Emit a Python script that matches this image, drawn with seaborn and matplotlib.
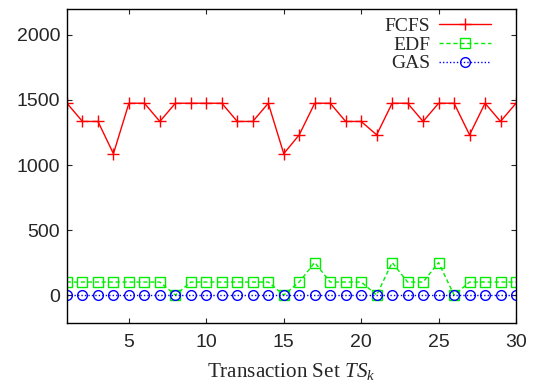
import matplotlib
matplotlib.use("Agg")
import matplotlib.pyplot as plt
import seaborn as sns
import pandas as pd

# Response time of each scheduling policy per transaction set
transaction_sets = list(range(1, 31))
fcfs = [1475, 1335, 1335, 1087, 1475, 1475, 1335, 1475, 1475, 1475,
        1475, 1335, 1335, 1475, 1087, 1232, 1475, 1475, 1335, 1335,
        1232, 1475, 1475, 1335, 1475, 1475, 1232, 1475, 1335, 1475]
edf = [100, 100, 100, 100, 100, 100, 100, 0, 100, 100,
       100, 100, 100, 100, 0, 100, 250, 100, 100, 100,
       0, 250, 100, 100, 250, 0, 100, 100, 100, 100]
gas = [0] * 30
x_ticks = [5, 10, 15, 20, 25, 30]
y_ticks = [0, 500, 1000, 1500, 2000]

sns.set_style("ticks")
plt.rcParams["font.family"] = ["Liberation Sans", "DejaVu Sans"]
plt.rcParams["mathtext.fontset"] = "custom"
plt.rcParams["mathtext.rm"] = "Liberation Serif"
plt.rcParams["mathtext.it"] = "Liberation Serif:italic"

df = pd.DataFrame({"ts": transaction_sets, "FCFS": fcfs, "EDF": edf, "GAS": gas})

fig = plt.figure(figsize=(5.41, 3.90), dpi=100)
ax = fig.add_axes([0.1238, 0.1718, 0.83, 0.8052])

sns.lineplot(data=df, x="ts", y="FCFS", ax=ax, color="#ff0000", linestyle="-",
             linewidth=1.0, marker="+", markersize=8, markeredgewidth=1.0,
             markeredgecolor="#ff0000", label="FCFS")
sns.lineplot(data=df, x="ts", y="EDF", ax=ax, color="#00ee00", linestyle=(0, (3, 2)),
             linewidth=1.0, marker="s", markersize=7, markerfacecolor="none",
             markeredgecolor="#00ee00", markeredgewidth=1.0, label="EDF")
sns.lineplot(data=df, x="ts", y="GAS", ax=ax, color="#0000ff", linestyle=(0, (1, 1.5)),
             linewidth=1.0, marker="o", markersize=7, markerfacecolor="none",
             markeredgecolor="#0000ff", markeredgewidth=1.0, label="GAS")

ax.set_xlim(1, 30)
ax.set_ylim(-215, 2200)
ax.set_xticks(x_ticks)
ax.set_yticks(y_ticks)
ax.tick_params(direction="in", length=3.5, width=0.8, top=True, right=True,
               labelsize=14)
ax.tick_params(axis="x", pad=8)
ax.tick_params(axis="y", pad=5)
for s in ax.spines.values():
    s.set_linewidth(1.0)
    s.set_color("black")

ax.set_xlabel("Transaction Set $TS_k$", fontsize=15.2, family="Liberation Serif", labelpad=7)
ax.set_ylabel("")

leg = ax.legend(loc="upper right", frameon=False, markerfirst=False,
                prop={"family": "Liberation Serif", "size": 14},
                handlelength=2.7, handletextpad=0.45, labelspacing=0.05,
                borderaxespad=0.0, bbox_to_anchor=(0.962, 0.997))
for t in leg.get_texts():
    t.set_ha("right")
leg._legend_box.align = "right"

fig.savefig("out.png", dpi=100)
